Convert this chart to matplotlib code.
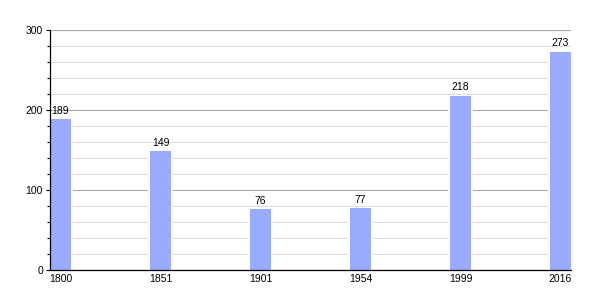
import numpy as np
import matplotlib
matplotlib.use("Agg")
import matplotlib.pyplot as plt
from matplotlib.ticker import MultipleLocator

years = ["1800", "1851", "1901", "1954", "1999", "2016"]
population = [189, 149, 76, 77, 218, 273]

bar_w = 0.21
x = np.arange(len(years))

plt.rcParams['font.family'] = ['Liberation Sans', 'DejaVu Sans']

fig = plt.figure(figsize=(6, 3), dpi=100)
ax = fig.add_axes([50 / 600, 30 / 300, 521 / 600, 240 / 300])

# grid
ax.yaxis.set_major_locator(MultipleLocator(100))
ax.yaxis.set_minor_locator(MultipleLocator(20))
ax.grid(axis='y', which='major', color='#a8a8a8', linewidth=0.8, zorder=0)
ax.grid(axis='y', which='minor', color='#dedede', linewidth=0.8, zorder=0)
ax.set_axisbelow(True)

# white halo around bars, then bars
ax.bar(x - 0.02, population, width=bar_w + 0.04, align='edge', color='white', zorder=1)
ax.bar(x, population, width=bar_w, align='edge', color='#99aaff', zorder=2)

for xi, v in zip(x, population):
    ax.text(xi + bar_w / 2, v + 4, str(v), ha='center', va='bottom', fontsize=7.5, zorder=3)

ax.set_xlim(0, len(years) - 1 + bar_w)
ax.set_ylim(0, 300)
ax.set_xticks(x + bar_w / 2)
ax.set_xticklabels(years)
ax.tick_params(axis='x', length=0, labelsize=7.5, pad=3)
ax.tick_params(axis='y', which='major', length=3, width=0.8, labelsize=7.5, pad=2)
ax.tick_params(axis='y', which='minor', length=2, width=0.8)

for s in ['top', 'right']:
    ax.spines[s].set_visible(False)
ax.spines['left'].set_linewidth(0.9)
ax.spines['bottom'].set_linewidth(0.9)

fig.savefig("out.png", dpi=100)
